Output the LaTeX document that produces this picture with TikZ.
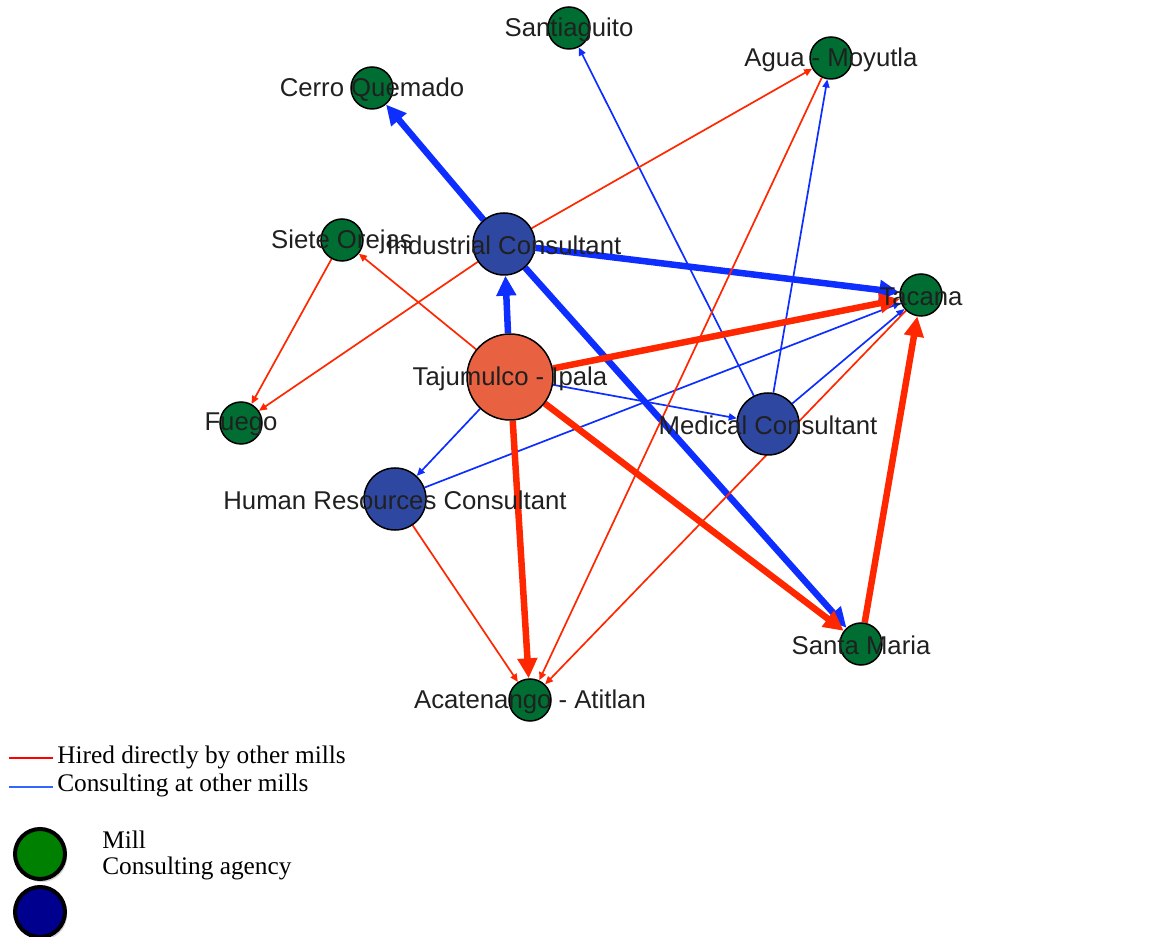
\documentclass[tikz,border=0pt]{standalone}
\usepackage{fontspec}
\setmainfont{Liberation Serif}
\setsansfont{Liberation Sans}
\usetikzlibrary{arrows.meta,backgrounds,shadows}

\newlength{\du}
\setlength{\du}{0.75pt}

\definecolor{millgreen}{rgb}{0.000000, 0.431373, 0.196078}
\definecolor{agencyblue}{rgb}{0.180392, 0.282353, 0.635294}
\definecolor{hubred}{rgb}{0.909804, 0.380392, 0.254902}
\definecolor{hirered}{rgb}{1.000000, 0.152941, 0.000000}
\definecolor{consultblue}{rgb}{0.050980, 0.180392, 1.000000}
\definecolor{labelgray}{rgb}{0.125490, 0.125490, 0.125490}
\definecolor{keyred}{rgb}{1.000000, 0.000000, 0.000000}
\definecolor{keyblue}{rgb}{0.200000, 0.400000, 1.000000}
\definecolor{keygreen}{rgb}{0.000000, 0.501961, 0.000000}
\definecolor{keynavy}{rgb}{0.000000, 0.000000, 0.560784}

\tikzset{
  mill/.style={circle, draw=black, line width=1.5\du, fill=millgreen,
    minimum size=42\du, inner sep=0pt},
  agency/.style={mill, fill=agencyblue, minimum size=62\du},
  hub/.style={mill, fill=hubred, minimum size=86\du},
  lbl/.style={font=\sffamily\fontsize{19.3}{22}\selectfont, text=labelgray, inner sep=0pt,
    yshift=-1.5\du},
  hired/.style={draw=hirered, line width=1.7\du, -{Triangle[length=6pt,width=5.25pt]}},
  hiredthick/.style={draw=hirered, line width=6.5\du, -{Triangle[length=15pt,width=14.25pt]}},
  consult/.style={draw=consultblue, line width=1.7\du, -{Triangle[length=6pt,width=5.25pt]}},
  consultthick/.style={draw=consultblue, line width=6.5\du, -{Triangle[length=15pt,width=14.25pt]}},
  keytext/.style={font=\fontsize{19}{21}\selectfont, anchor=west, inner sep=0pt},
  keydot/.style={circle, draw=black, line width=4\du, minimum size=50\du, inner sep=0pt,
    drop shadow={shadow xshift=1.5pt, shadow yshift=-2.25pt, opacity=0.35}}
}

\begin{document}
\begin{tikzpicture}
\pgftransformxscale{1.000000}
\pgftransformyscale{-1.000000}
\useasboundingbox (0\du,0\du) rectangle (1171\du,937\du);

% mills and consultants
\node[mill] (santiaguito) at (569\du,28\du) {};
\node[mill] (agua) at (831\du,58\du) {};
\node[mill] (cerro) at (372\du,88\du) {};
\node[mill] (siete) at (342\du,240\du) {};
\node[agency] (industrial) at (504\du,244\du) {};
\node[mill] (tacana) at (921\du,295\du) {};
\node[hub] (tajumulco) at (510\du,377\du) {};
\node[mill] (fuego) at (241\du,423\du) {};
\node[agency] (medical) at (768\du,424\du) {};
\node[agency] (humanres) at (395\du,499\du) {};
\node[mill] (santamaria) at (861\du,644\du) {};
\node[mill] (acatenango) at (530\du,700\du) {};

\begin{scope}[on background layer]
% consulting at other mills
\draw[consultthick] (industrial) -- (cerro);
\draw[consultthick] (industrial) -- (tacana);
\draw[consultthick] (industrial) -- (santamaria);
\draw[consultthick] (tajumulco) -- (industrial);
\draw[consult] (medical) -- (santiaguito);
\draw[consult] (medical) -- (agua);
\draw[consult] (medical) -- (tacana);
\draw[consult] (humanres) -- (tacana);
\draw[consult] (tajumulco) -- (medical);
\draw[consult] (tajumulco) -- (humanres);
% hired directly by other mills
\draw[hiredthick] (tajumulco) -- (tacana);
\draw[hiredthick] (tajumulco) -- (santamaria);
\draw[hiredthick] (tajumulco) -- (acatenango);
\draw[hiredthick] (santamaria) -- (tacana);
\draw[hired] (tajumulco) -- (siete);
\draw[hired] (siete) -- (fuego);
\draw[hired] (industrial) -- (fuego);
\draw[hired] (industrial) -- (agua);
\draw[hired] (humanres) -- (acatenango);
\draw[hired] (agua) -- (acatenango);
\draw[hired] (tacana) -- (acatenango);
\end{scope}

% labels over everything
\node[lbl] (santiaguito-t) at (santiaguito) {Santiaguito};
\node[lbl] (agua-t) at (agua) {Agua - Moyutla};
\node[lbl] (cerro-t) at (cerro) {Cerro Quemado};
\node[lbl] (siete-t) at (siete) {Siete Orejas};
\node[lbl] (industrial-t) at (industrial) {Industrial Consultant};
\node[lbl] (tacana-t) at (tacana) {Tacana};
\node[lbl] (tajumulco-t) at (tajumulco) {Tajumulco - Ipala};
\node[lbl] (fuego-t) at (fuego) {Fuego};
\node[lbl] (medical-t) at (medical) {Medical Consultant};
\node[lbl] (humanres-t) at (humanres) {Human Resources Consultant};
\node[lbl] (santamaria-t) at (santamaria) {Santa Maria};
\node[lbl] (acatenango-t) at (acatenango) {Acatenango - Atitlan};

% legend
\node[keytext] (hiredkey) at (57\du,757\du) {Hired directly by other mills};
\node[keytext] (consultkey) at (57\du,785\du) {Consulting at other mills};
\coordinate (hiredend) at (9\du,758\du);
\coordinate (consultend) at (9\du,787\du);
\draw[keyred, line width=2\du] (hiredend) -- ([xshift=-4\du]hiredend -| hiredkey.west);
\draw[keyblue, line width=2\du] (consultend) -- ([xshift=-4\du]consultend -| consultkey.west);
\node[keydot, fill=keygreen] (millkey) at (40\du,854\du) {};
\node[keydot, fill=keynavy] (agencykey) at (40\du,912\du) {};
\node[keytext] (milltext) at (102\du,840\du) {Mill};
\node[keytext] (agencytext) at (102\du,868\du) {Consulting agency};
\end{tikzpicture}
\end{document}
